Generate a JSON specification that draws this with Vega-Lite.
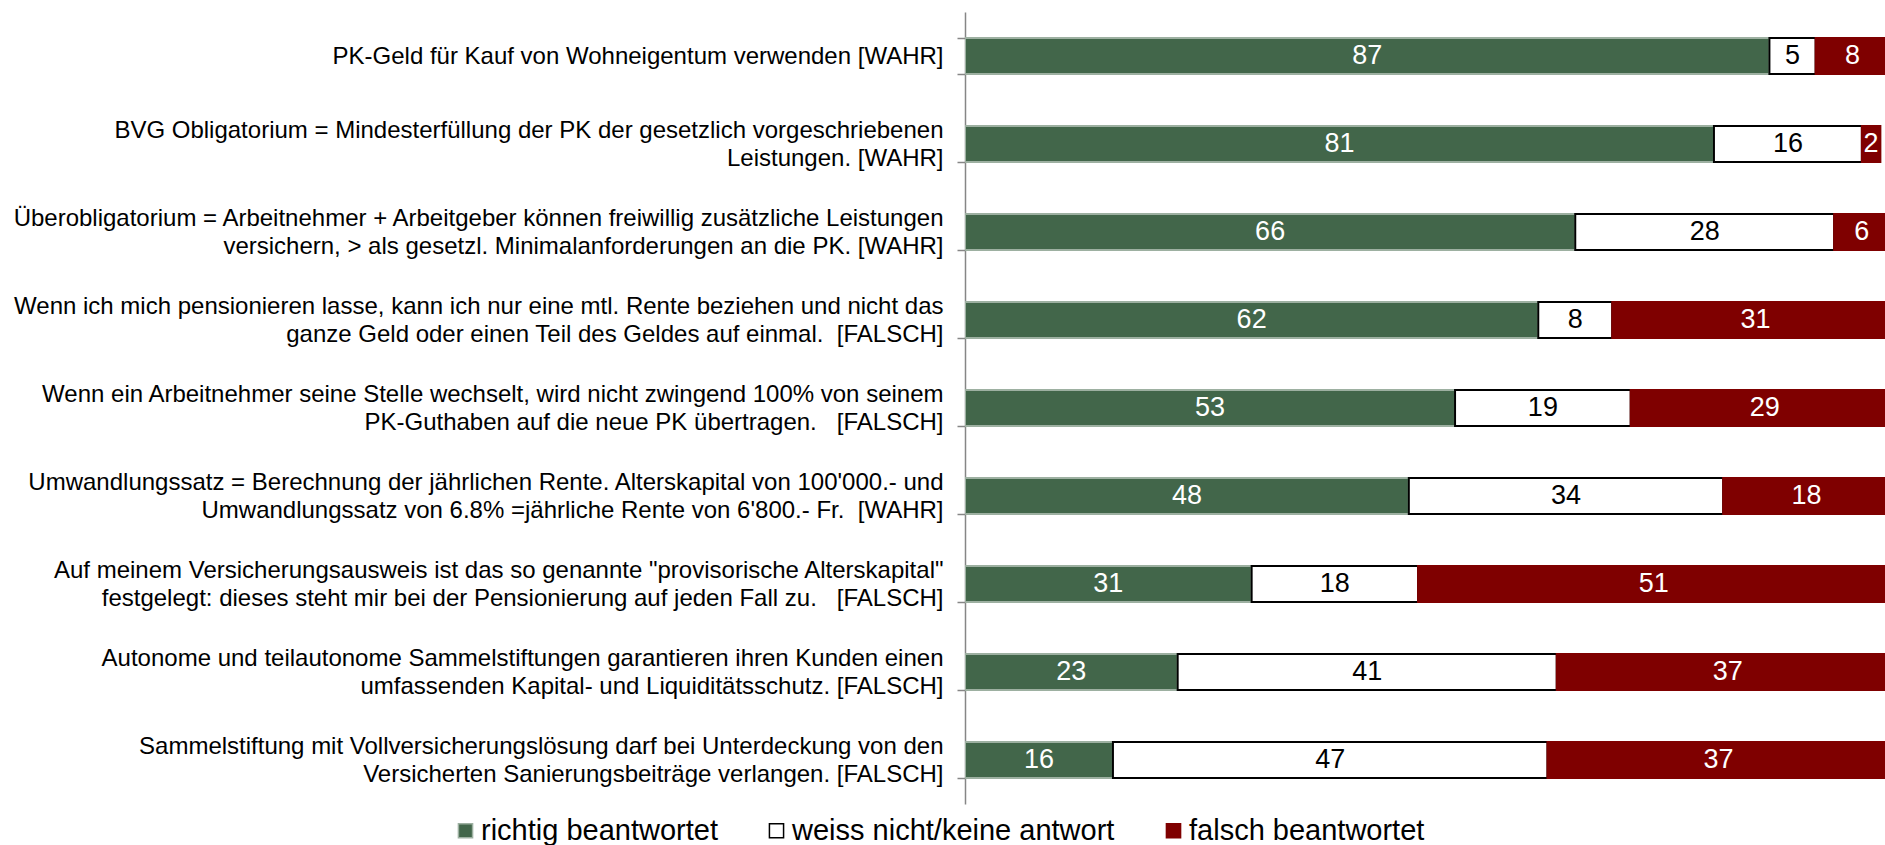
{
  "$schema": "https://vega.github.io/schema/vega-lite/v6.json",
  "width": 920,
  "height": 792,
  "autosize": {"type": "none"},
  "padding": {"left": 965, "top": 12, "right": 0, "bottom": 41},
  "background": "white",
  "config": {
    "view": {"stroke": null},
    "font": "Liberation Sans"
  },
  "data": {
    "values": [
      {"idx": 1, "q": "PK-Geld für Kauf von Wohneigentum verwenden [WAHR]", "cat": "richtig beantwortet", "o": 1, "value": 87},
      {"idx": 1, "q": "PK-Geld für Kauf von Wohneigentum verwenden [WAHR]", "cat": "weiss nicht/keine antwort", "o": 2, "value": 5},
      {"idx": 1, "q": "PK-Geld für Kauf von Wohneigentum verwenden [WAHR]", "cat": "falsch beantwortet", "o": 3, "value": 8},
      {"idx": 2, "q": "BVG Obligatorium = Mindesterfüllung der PK der gesetzlich vorgeschriebenen|Leistungen. [WAHR]", "cat": "richtig beantwortet", "o": 1, "value": 81},
      {"idx": 2, "q": "BVG Obligatorium = Mindesterfüllung der PK der gesetzlich vorgeschriebenen|Leistungen. [WAHR]", "cat": "weiss nicht/keine antwort", "o": 2, "value": 16},
      {"idx": 2, "q": "BVG Obligatorium = Mindesterfüllung der PK der gesetzlich vorgeschriebenen|Leistungen. [WAHR]", "cat": "falsch beantwortet", "o": 3, "value": 2},
      {"idx": 3, "q": "Überobligatorium = Arbeitnehmer + Arbeitgeber können freiwillig zusätzliche Leistungen|versichern, > als gesetzl. Minimalanforderungen an die PK. [WAHR]", "cat": "richtig beantwortet", "o": 1, "value": 66},
      {"idx": 3, "q": "Überobligatorium = Arbeitnehmer + Arbeitgeber können freiwillig zusätzliche Leistungen|versichern, > als gesetzl. Minimalanforderungen an die PK. [WAHR]", "cat": "weiss nicht/keine antwort", "o": 2, "value": 28},
      {"idx": 3, "q": "Überobligatorium = Arbeitnehmer + Arbeitgeber können freiwillig zusätzliche Leistungen|versichern, > als gesetzl. Minimalanforderungen an die PK. [WAHR]", "cat": "falsch beantwortet", "o": 3, "value": 6},
      {"idx": 4, "q": "Wenn ich mich pensionieren lasse, kann ich nur eine mtl. Rente beziehen und nicht das|ganze Geld oder einen Teil des Geldes auf einmal.  [FALSCH]", "cat": "richtig beantwortet", "o": 1, "value": 62},
      {"idx": 4, "q": "Wenn ich mich pensionieren lasse, kann ich nur eine mtl. Rente beziehen und nicht das|ganze Geld oder einen Teil des Geldes auf einmal.  [FALSCH]", "cat": "weiss nicht/keine antwort", "o": 2, "value": 8},
      {"idx": 4, "q": "Wenn ich mich pensionieren lasse, kann ich nur eine mtl. Rente beziehen und nicht das|ganze Geld oder einen Teil des Geldes auf einmal.  [FALSCH]", "cat": "falsch beantwortet", "o": 3, "value": 31},
      {"idx": 5, "q": "Wenn ein Arbeitnehmer seine Stelle wechselt, wird nicht zwingend 100% von seinem|PK-Guthaben auf die neue PK übertragen.   [FALSCH]", "cat": "richtig beantwortet", "o": 1, "value": 53},
      {"idx": 5, "q": "Wenn ein Arbeitnehmer seine Stelle wechselt, wird nicht zwingend 100% von seinem|PK-Guthaben auf die neue PK übertragen.   [FALSCH]", "cat": "weiss nicht/keine antwort", "o": 2, "value": 19},
      {"idx": 5, "q": "Wenn ein Arbeitnehmer seine Stelle wechselt, wird nicht zwingend 100% von seinem|PK-Guthaben auf die neue PK übertragen.   [FALSCH]", "cat": "falsch beantwortet", "o": 3, "value": 29},
      {"idx": 6, "q": "Umwandlungssatz = Berechnung der jährlichen Rente. Alterskapital von 100'000.- und|Umwandlungssatz von 6.8% =jährliche Rente von 6'800.- Fr.  [WAHR]", "cat": "richtig beantwortet", "o": 1, "value": 48},
      {"idx": 6, "q": "Umwandlungssatz = Berechnung der jährlichen Rente. Alterskapital von 100'000.- und|Umwandlungssatz von 6.8% =jährliche Rente von 6'800.- Fr.  [WAHR]", "cat": "weiss nicht/keine antwort", "o": 2, "value": 34},
      {"idx": 6, "q": "Umwandlungssatz = Berechnung der jährlichen Rente. Alterskapital von 100'000.- und|Umwandlungssatz von 6.8% =jährliche Rente von 6'800.- Fr.  [WAHR]", "cat": "falsch beantwortet", "o": 3, "value": 18},
      {"idx": 7, "q": "Auf meinem Versicherungsausweis ist das so genannte \"provisorische Alterskapital\"|festgelegt: dieses steht mir bei der Pensionierung auf jeden Fall zu.   [FALSCH]", "cat": "richtig beantwortet", "o": 1, "value": 31},
      {"idx": 7, "q": "Auf meinem Versicherungsausweis ist das so genannte \"provisorische Alterskapital\"|festgelegt: dieses steht mir bei der Pensionierung auf jeden Fall zu.   [FALSCH]", "cat": "weiss nicht/keine antwort", "o": 2, "value": 18},
      {"idx": 7, "q": "Auf meinem Versicherungsausweis ist das so genannte \"provisorische Alterskapital\"|festgelegt: dieses steht mir bei der Pensionierung auf jeden Fall zu.   [FALSCH]", "cat": "falsch beantwortet", "o": 3, "value": 51},
      {"idx": 8, "q": "Autonome und teilautonome Sammelstiftungen garantieren ihren Kunden einen|umfassenden Kapital- und Liquiditätsschutz. [FALSCH]", "cat": "richtig beantwortet", "o": 1, "value": 23},
      {"idx": 8, "q": "Autonome und teilautonome Sammelstiftungen garantieren ihren Kunden einen|umfassenden Kapital- und Liquiditätsschutz. [FALSCH]", "cat": "weiss nicht/keine antwort", "o": 2, "value": 41},
      {"idx": 8, "q": "Autonome und teilautonome Sammelstiftungen garantieren ihren Kunden einen|umfassenden Kapital- und Liquiditätsschutz. [FALSCH]", "cat": "falsch beantwortet", "o": 3, "value": 37},
      {"idx": 9, "q": "Sammelstiftung mit Vollversicherungslösung darf bei Unterdeckung von den|Versicherten Sanierungsbeiträge verlangen. [FALSCH]", "cat": "richtig beantwortet", "o": 1, "value": 16},
      {"idx": 9, "q": "Sammelstiftung mit Vollversicherungslösung darf bei Unterdeckung von den|Versicherten Sanierungsbeiträge verlangen. [FALSCH]", "cat": "weiss nicht/keine antwort", "o": 2, "value": 47},
      {"idx": 9, "q": "Sammelstiftung mit Vollversicherungslösung darf bei Unterdeckung von den|Versicherten Sanierungsbeiträge verlangen. [FALSCH]", "cat": "falsch beantwortet", "o": 3, "value": 37}
    ]
  },
  "encoding": {
    "y": {
      "field": "q",
      "type": "nominal",
      "sort": {"field": "idx", "op": "min", "order": "ascending"},
      "scale": {"paddingInner": 0.59, "paddingOuter": 0.295},
      "axis": {
        "title": null,
        "labelExpr": "split(replace(replace(datum.label, '   ', '\u00a0\u00a0\u00a0'), '  ', '\u00a0\u00a0'), '|')",
        "labelFontSize": 24,
        "labelFont": "Liberation Sans",
        "labelColor": "#000000",
        "labelLineHeight": 28,
        "labelLimit": 2000,
        "labelPadding": 14,
        "labelOffset": {"condition": {"test": "indexof(datum.label, '|') >= 0", "value": -14}, "value": 0},
        "tickBand": "extent",
        "tickSize": 8,
        "tickColor": "#868686",
        "domainColor": "#868686",
        "domainWidth": 1.5,
        "tickWidth": 1.5,
        "grid": false
      }
    },
    "x": {
      "field": "value",
      "type": "quantitative",
      "stack": "zero",
      "scale": {"domain": [0, 99.5], "nice": false, "zero": true},
      "axis": null
    },
    "order": {"field": "o", "type": "quantitative"}
  },
  "layer": [
    {
      "mark": {"type": "bar", "clip": true, "strokeWidth": 2},
      "encoding": {
        "color": {
          "field": "cat",
          "type": "nominal",
          "scale": {
            "domain": ["richtig beantwortet", "weiss nicht/keine antwort", "falsch beantwortet"],
            "range": ["#42664A", "#FFFFFF", "#7F0000"]
          },
          "legend": {
            "title": null,
            "orient": "none",
            "direction": "horizontal",
            "legendX": -514,
            "legendY": 804,
            "symbolType": "square",
            "symbolSize": 200,
            "symbolStrokeWidth": 1.5,
            "labelFontSize": 29,
            "labelFont": "Liberation Sans",
            "labelColor": "#000000",
            "labelOffset": 1,
            "columnPadding": 44,
            "labelLimit": 1000
          }
        },
        "stroke": {
          "field": "cat",
          "type": "nominal",
          "scale": {
            "domain": ["richtig beantwortet", "weiss nicht/keine antwort", "falsch beantwortet"],
            "range": ["#9DB0A1", "#000000", "#7F0000"]
          },
          "legend": null
        }
      }
    },
    {
      "mark": {"type": "text", "clip": true, "fontSize": 27, "font": "Liberation Sans", "baseline": "middle", "align": "center"},
      "encoding": {
        "x": {
          "field": "value",
          "type": "quantitative",
          "stack": "zero",
          "bandPosition": 0.5
        },
        "text": {"field": "value", "type": "quantitative"},
        "color": {
          "condition": {"test": "datum.cat === 'weiss nicht/keine antwort'", "value": "#000000"},
          "value": "#FFFFFF"
        }
      }
    }
  ]
}
